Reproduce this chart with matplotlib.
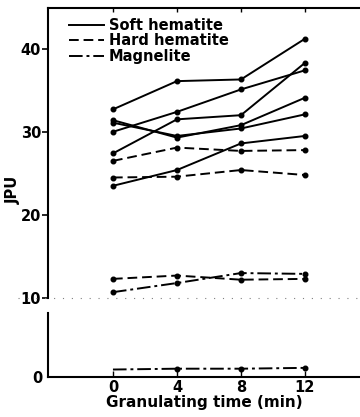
import matplotlib.pyplot as plt
from matplotlib.lines import Line2D

plt.rcParams['font.family'] = ['DejaVu Sans']
plt.rcParams['font.weight'] = 'bold'

# granulating time (min)
times = [0, 4, 8, 12]

# JPU values, soft hematite (solid)
soft_1 = [32.7, 36.1, 36.3, 41.2]
soft_2 = [30.0, 32.4, 35.1, 37.4]
soft_3 = [27.4, 31.5, 32.0, 38.3]
soft_4 = [31.4, 29.3, 30.8, 34.1]
soft_5 = [31.1, 29.5, 30.4, 32.1]
soft_6 = [23.5, 25.4, 28.6, 29.5]

# hard hematite (dashed)
hard_1 = [26.5, 28.1, 27.7, 27.8]
hard_2 = [24.5, 24.6, 25.4, 24.8]
hard_3 = [12.3, 12.7, 12.2, 12.3]

# magnetite (dash-dot)
mag_1 = [10.7, 11.8, 13.0, 12.9]
mag_2 = [0.9, 1.0, 1.0, 1.1]

soft = [soft_1, soft_2, soft_3, soft_4, soft_5, soft_6]
hard = [hard_1, hard_2, hard_3]

dashed = (0, (5, 2.5))
dashdot = (0, (7, 2, 1.5, 2))

fig = plt.figure(figsize=(3.6, 4.17), dpi=100)
ax = fig.add_axes([0.1333, 0.2854, 0.8667, 0.6954])
ax2 = fig.add_axes([0.1333, 0.0959, 0.8667, 0.1535])

kw = dict(color='black', lw=1.4, marker='o', ms=3.3)
for s in soft:
    ax.plot(times, s, ls='-', **kw)
for h in hard:
    ax.plot(times, h, ls=dashed, **kw)
ax.plot(times, mag_1, ls=dashdot, **kw)
ax2.plot(times, mag_2, ls=dashdot, markevery=[1, 2, 3], **kw)

xlim = (-4.06, 15.44)
ax.set_xlim(*xlim)
ax.set_ylim(10, 44.9)
ax2.set_xlim(*xlim)
ax2.set_ylim(0, 7.7)

for a in (ax, ax2):
    a.spines['right'].set_visible(False)
    for sp in a.spines.values():
        sp.set_linewidth(1.5)

ax.spines['bottom'].set_visible(False)
ax2.spines['top'].set_visible(False)

ax.set_yticks([10, 20, 30, 40])
ax.set_xticks(times)
ax.tick_params(axis='y', direction='out', length=4, width=1.2, labelsize=10.5, pad=1)
ax.tick_params(axis='x', bottom=False, labelbottom=False, top=True, direction='in',
               length=3, width=1)

ax2.set_yticks([0])
ax2.set_xticks(times)
ax2.tick_params(axis='y', direction='out', length=0, labelsize=10.5, pad=4)
ax2.tick_params(axis='x', direction='in', length=4, width=1, labelsize=10.5, pad=2)
ax2.set_xlabel('Granulating time (min)', fontsize=11, fontweight='bold', labelpad=0)

fig.text(0.036, 1 - 190 / 417, 'JPU', rotation=90, fontsize=10.5,
         fontweight='bold', ha='center', va='center')

# dotted axis break line
fig.add_artist(Line2D([0.05, 1.0], [1 - 298 / 417] * 2, color='gray',
                      lw=0.8, ls=(0, (1, 7))))

handles = [Line2D([], [], color='black', lw=1.4, ls='-'),
           Line2D([], [], color='black', lw=1.4, ls=dashed),
           Line2D([], [], color='black', lw=1.4, ls=dashdot)]
ax.legend(handles, ['Soft hematite', 'Hard hematite', 'Magnelite'],
          loc='upper left', bbox_to_anchor=(0.04, 0.995), frameon=False,
          fontsize=10.5, handlelength=2.4, handletextpad=0.3,
          labelspacing=0.02, borderaxespad=0.2)

fig.savefig('out.png', dpi=100)
